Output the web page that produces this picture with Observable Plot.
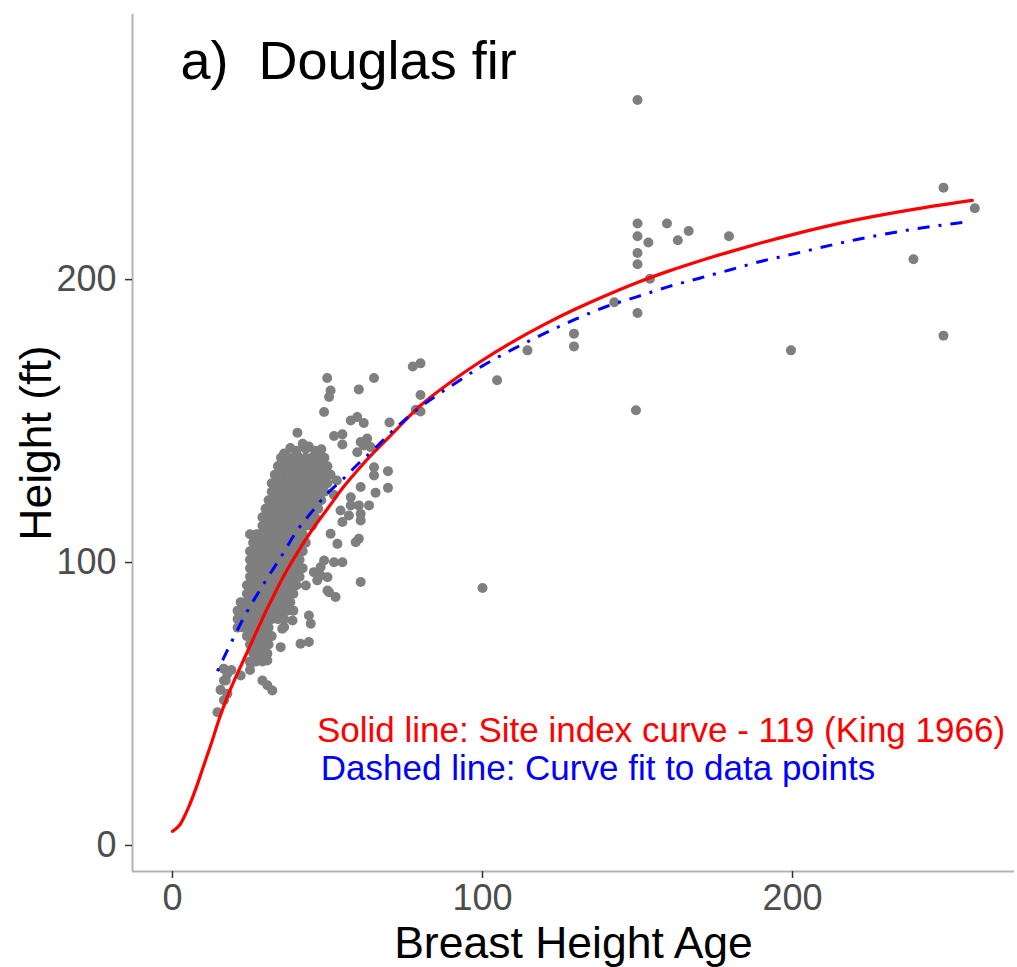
<!DOCTYPE html>
<html>
<head>
<meta charset="utf-8">
<script src="https://cdn.jsdelivr.net/npm/d3@7"></script>
<script src="https://cdn.jsdelivr.net/npm/@observablehq/plot@0.6"></script>
<style>
  html, body { margin: 0; padding: 0; background: #ffffff; }
  #chart svg { display: block; }
</style>
</head>
<body>
<div id="chart"></div>
<script>
// ---- tick values ----
const xTicks = [0, 100, 200];
const yTicks = [0, 100, 200];

// ---- solid red line: site index curve 119 (King 1966) ----
const siteAge    = [0, 2.5, 5, 7.5, 10, 12.5, 15, 17.5, 20, 22.5, 25, 27.5, 30, 32.5, 35, 40, 45, 50, 55, 60, 65, 70, 80, 90, 100, 110, 120, 130, 140, 150, 160, 170, 180, 190, 200, 220, 240, 258];
const siteHeight = [5, 7.5, 13, 20, 28, 36, 44.5, 52, 58.5, 64.5, 70.5, 76.5, 82.5, 88, 93.5, 103, 111.5, 119, 126.5, 133, 139, 144.5, 155.5, 164, 171.5, 178.2, 184.2, 189.6, 194.5, 199, 203, 206.6, 209.9, 213, 215.9, 221, 225, 228];

// ---- dash-dot blue line: curve fit to data points ----
const fitAge    = [14.5, 17.5, 20, 22.5, 25, 27.5, 30, 35, 40, 45, 50, 55, 60, 65, 70, 80, 90, 100, 110, 120, 130, 140, 150, 160, 170, 180, 190, 200, 220, 240, 257.5];
const fitHeight = [61.6, 68.5, 74, 79.5, 84.5, 89, 93.5, 102, 111, 118, 124.5, 129.5, 135, 140, 145.5, 155, 162.5, 169.5, 175.5, 181, 186, 190.5, 194, 197.5, 200.5, 203.5, 206.5, 209, 214, 218, 220.5];

// ---- observed trees: dense cluster, one row per height with the ages in it ----
const clusterRows = [
  [137, [35, 37, 39, 41, 43, 45, 47, 49]],
  [134, [34, 36, 38, 40, 42, 44, 46, 48, 50]],
  [131, [33, 35, 37, 39, 41, 43, 45, 47, 49, 51]],
  [128, [32, 34, 36, 38, 40, 42, 44, 46, 48, 50]],
  [125, [32, 33, 35, 37, 39, 41, 43, 45, 47, 49]],
  [122, [31, 32, 34, 36, 38, 40, 42, 44, 46, 48]],
  [119, [30, 31, 33, 35, 37, 39, 41, 43, 45, 47]],
  [116, [29, 30, 32, 34, 36, 38, 40, 42, 44, 46]],
  [113, [29, 31, 33, 35, 37, 39, 41, 43, 45]],
  [110, [27, 28, 30, 32, 34, 36, 38, 40, 42]],
  [107, [26, 27, 29, 31, 33, 35, 37, 39, 41, 43]],
  [104, [25, 26, 28, 30, 32, 34, 36, 38, 40, 42]],
  [101, [25, 27, 29, 31, 33, 35, 37, 39, 41]],
  [98,  [25, 26, 28, 30, 32, 34, 36, 38, 40, 42]],
  [95,  [25, 27, 29, 31, 33, 35, 37, 39, 41]],
  [92,  [24, 26, 28, 30, 32, 34, 36, 38, 40]],
  [89,  [24, 25, 27, 29, 31, 33, 35, 37, 39]],
  [86,  [22, 24, 26, 28, 30, 32, 34, 36, 38]],
  [83,  [21, 23, 25, 27, 29, 31, 33, 35, 37, 39]],
  [80,  [21, 22, 24, 26, 28, 30, 32, 34, 36]],
  [77,  [21, 23, 25, 27, 29, 31]],
  [74,  [24, 26, 28, 30, 32]],
  [71,  [25, 27, 29, 31]],
  [68,  [26, 28, 30]],
  [65,  [25, 27, 29]],
  [62,  [25]]
];

// ---- observed trees: scattered points ----
const scatterAge = [
  150, 150, 159.5, 166.5, 150, 153.5, 163, 179.5, 150, 150, 154, 142.5, 150, 129.5, 129.5, 114.5, 104.7, 149.5, 100, 199.5, 248.7, 258.8, 239, 248.7,
  77.5, 80, 80, 80, 78.5, 70, 69.5, 69.5, 65.5, 65, 65,
  49.9, 65, 51, 50.5, 60.1, 48.9, 57.5, 59.6, 61.7, 40.3, 52.1, 54.8, 54.8, 60.7, 62.8, 59.6, 61.7, 63.9,
  60.7, 57.5, 63.4, 60.1, 57.5, 54.2, 56.9, 60.7, 54.8, 60.7, 59.1, 60.1, 53.2, 51, 52.1, 54.8, 48.9, 47.8,
  60.7, 45.6, 46.7, 43, 50, 52.6, 50.5, 47.8, 50, 44, 44.6, 36, 41.3, 44, 34.9, 35.4, 38.7,
  30.6, 25.2, 30.6, 29, 30.6, 32.2, 22, 16.6, 17.7, 14.5, 16.6, 17.2, 17.7, 15.5, 19, 16.5, 25, 43, 37.1, 34.4, 53, 52,
  36, 38, 40, 42, 44, 46, 48
];
const scatterHeight = [
  263.5, 219.8, 219.8, 217.2, 215.3, 213.1, 213.9, 215.3, 209.4, 205.4, 200.3, 192, 188.2, 180.9, 176.4, 175, 164.4, 153.8, 91, 175, 232.5, 225.2, 207.2, 180.2,
  169.3, 170.4, 159.2, 153.4, 154, 149.5, 132.3, 126.4, 124.7, 130.8, 133.7,
  165.2, 165.2, 160.8, 158.5, 161.2, 153.2, 150.2, 151.4, 149.3, 145.9, 144.7, 145.3, 141.7, 142.6, 143.8, 139, 141.4, 140.8,
  126.7, 123.1, 120.2, 120.2, 120.2, 118.4, 116.6, 117.2, 114.3, 114.9, 107.2, 108.4, 106.6, 110.2, 100.1, 100.1, 100.7, 98.4,
  93.1, 96.6, 93.7, 91.9, 90.1, 87.8, 89.5, 95.4, 94.8, 81.3, 78.4, 77.2, 71.3, 71.9, 70.1, 76.6, 79.5,
  65.4, 64.2, 67.8, 58.3, 56.6, 54.8, 60.1, 58.3, 53.6, 47.1, 51.3, 58.3, 60.7, 55, 62, 62.5, 110, 140.2, 137.3, 134.3, 129, 124,
  138.5, 140.5, 139.5, 142, 141, 139.5, 140
];

// ---- texts ----
const titleText  = "a)\u00a0\u00a0Douglas fir";
const noteSolid  = "Solid line: Site index curve - 119 (King 1966)";
const noteDashed = "Dashed line: Curve fit to data points";
const xTitle = "Breast Height Age";
const yTitle = "Height (ft)";

// ---- tables built from the arrays ----
const trees = [];
for (const [h, ages] of clusterRows) for (const a of ages) trees.push({age: a, height: h});
scatterAge.forEach((a, i) => trees.push({age: a, height: scatterHeight[i]}));
const site = siteAge.map((a, i) => ({age: a, height: siteHeight[i]}));
const fit = fitAge.map((a, i) => ({age: a, height: fitHeight[i]}));

const FONT = "'Liberation Sans', Arial, Helvetica, sans-serif";
const X_DOMAIN = [-12.9, 271.6];
const Y_DOMAIN = [-9.2, 293.7];

const chart = Plot.plot({
  width: 1017,
  height: 967,
  marginLeft: 132,
  marginRight: 3,
  marginTop: 14,
  marginBottom: 96,
  style: {fontFamily: FONT, background: "#ffffff", color: "#000000"},
  x: {domain: X_DOMAIN, label: null},
  y: {domain: Y_DOMAIN, label: null},
  marks: [
    // axis lines
    Plot.ruleX([X_DOMAIN[0]], {stroke: "#B3B3B3", strokeWidth: 2}),
    Plot.ruleY([Y_DOMAIN[0]], {stroke: "#B3B3B3", strokeWidth: 2}),
    Plot.axisX(xTicks, {tickSize: 7, tickPadding: 6, fontSize: 36, fill: "#4D4D4D", stroke: "#333333", strokeWidth: 1.5, label: null}),
    Plot.axisY(yTicks, {tickSize: 7, tickPadding: 9, fontSize: 36, fill: "#4D4D4D", stroke: "#333333", strokeWidth: 1.5, label: null}),
    // data
    Plot.dot(trees, {x: "age", y: "height", r: 5, fill: "#7F7F7F", stroke: null}),
    Plot.line(site, {x: "age", y: "height", stroke: "#FF0000", strokeWidth: 3.2, curve: "monotone-x"}),
    Plot.line(fit, {x: "age", y: "height", stroke: "#0000FF", strokeWidth: 3, curve: "monotone-x", strokeDasharray: "3,9,12,9", strokeLinecap: "butt"}),
    // annotations
    Plot.text([titleText], {text: d => d, frameAnchor: "top-left", dx: 48, dy: 64, textAnchor: "start", lineAnchor: "bottom", fontSize: 54, fill: "#000000"}),
    Plot.text([noteSolid], {text: d => d, frameAnchor: "top-left", dx: 184.5, dy: 727, textAnchor: "start", lineAnchor: "bottom", fontSize: 35, fill: "#FF0000"}),
    Plot.text([noteDashed], {text: d => d, frameAnchor: "top-left", dx: 188.3, dy: 765, textAnchor: "start", lineAnchor: "bottom", fontSize: 35, fill: "#0000FF"}),
    // axis titles
    Plot.text([xTitle], {text: d => d, frameAnchor: "bottom", dy: 86, textAnchor: "middle", lineAnchor: "bottom", fontSize: 44.5, fill: "#000000"}),
    Plot.text([yTitle], {text: d => d, frameAnchor: "left", dx: -82, rotate: -90, textAnchor: "middle", lineAnchor: "bottom", fontSize: 44.5, fill: "#000000"})
  ]
});
document.getElementById("chart").appendChild(chart);
</script>
</body>
</html>
